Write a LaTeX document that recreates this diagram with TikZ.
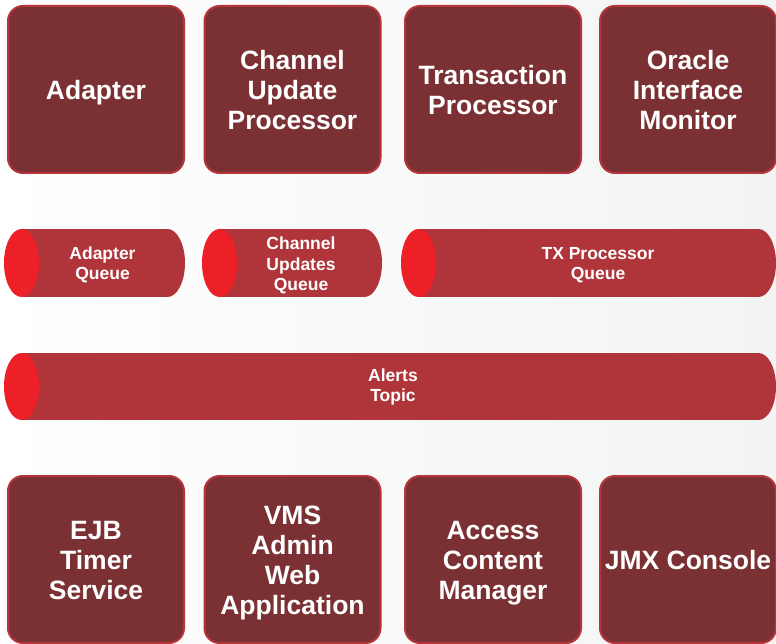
\documentclass[tikz,border=0pt]{standalone}
\usepackage{fontspec}
\setmainfont{Liberation Sans}
\definecolor{boxfill}{HTML}{7B3133}
\definecolor{boxline}{HTML}{B5353B}
\definecolor{cylbody}{HTML}{B0353A}
\definecolor{cylend}{HTML}{ED1F27}
\definecolor{bgright}{HTML}{F2F3F3}
\newcommand{\mycyl}[4]{% x0, x1, y0, y1
  \fill[cylbody] ({#1+17.5},#3) rectangle ({#2-17.5},#4);
  \fill[cylbody] ({#2-17.5},{(#3+#4)/2}) ellipse [x radius=17.5pt, y radius={(#4-#3)/2*1pt}];
  \fill[cylend] ({#1+17.5},{(#3+#4)/2}) ellipse [x radius=17.5pt, y radius={(#4-#3)/2*1pt}];
}
\newcommand{\bt}[1]{\raisebox{-4pt}[\height][\depth]{\begin{tabular}{@{}c@{}}#1\end{tabular}}}
\begin{document}
\begin{tikzpicture}[x=1pt,y=-1pt,
  procbox/.style={draw=boxline, line width=2pt, fill=boxfill, rounded corners=15pt,
    minimum width=176pt, minimum height=167pt, text=white, align=center, inner sep=0pt,
    font=\bfseries\fontsize{26.5}{30}\selectfont},
  qtext/.style={text=white, align=center, inner sep=0pt,
    font=\bfseries\fontsize{17.5}{20.5}\selectfont}]
\useasboundingbox (0,0) rectangle (776,644);
\shade[left color=white, right color=bgright] (0,0) rectangle (776,644);

% top row
\node[procbox] (adapter) at (96,89.5) {\bt{Adapter}};
\node[procbox] (cup) at (292.5,89.5) {\bt{Channel\\Update\\Processor}};
\node[procbox] (txp) at (493,89.5) {\bt{Transaction\\Processor}};
\node[procbox] (oim) at (688,89.5) {\bt{Oracle\\Interface\\Monitor}};

% queues
\mycyl{4}{185}{229}{297}
\node[qtext] (adq) at (102.5,265) {Adapter\\Queue};
\mycyl{202}{382}{229}{297}
\node[qtext] (cuq) at (301,265.5) {Channel\\Updates\\Queue};
\mycyl{401}{776}{229}{297}
\node[qtext] (txq) at (598,265) {TX Processor\\Queue};

% topic
\mycyl{4}{776}{353}{420}
\node[qtext] (alerts) at (393,387) {Alerts\\Topic};

% bottom row
\node[procbox] (ejb) at (96,559.5) {\bt{EJB\\Timer\\Service}};
\node[procbox] (vms) at (292.5,559.5) {\bt{VMS\\Admin\\Web\\Application}};
\node[procbox] (acm) at (493,559.5) {\bt{Access\\Content\\Manager}};
\node[procbox] (jmx) at (688,559.5) {\bt{JMX Console}};
\end{tikzpicture}
\end{document}
